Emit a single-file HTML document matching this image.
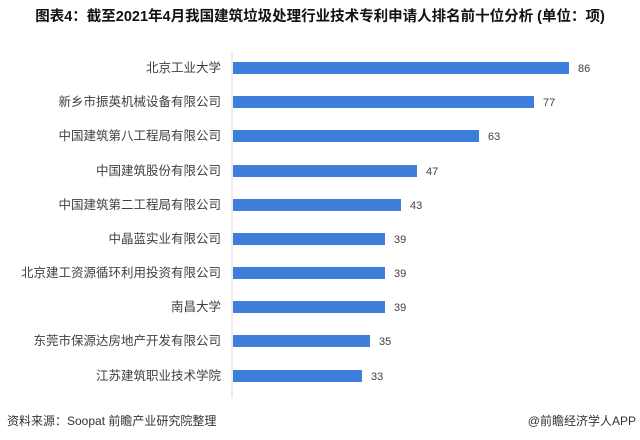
<!DOCTYPE html>
<html><head><meta charset="utf-8"><style>
body{margin:0;background:#fff;}
svg{display:block;font-family:"Liberation Sans","Noto Sans CJK SC",sans-serif;}
</style></head><body>
<svg width="640" height="440" xmlns="http://www.w3.org/2000/svg">
<text x="320" y="21" text-anchor="middle" font-size="14.5" font-weight="bold" fill="#111">图表4：截至2021年4月我国建筑垃圾处理行业技术专利申请人排名前十位分析 (单位：项)</text>
<line x1="232" y1="52" x2="232" y2="398" stroke="#d9d9d9" stroke-width="1"/>
<g font-size="12.5" fill="#404040" text-anchor="end">
<text x="221" y="72">北京工业大学</text>
<text x="221" y="106">新乡市振英机械设备有限公司</text>
<text x="221" y="140">中国建筑第八工程局有限公司</text>
<text x="221" y="175">中国建筑股份有限公司</text>
<text x="221" y="209">中国建筑第二工程局有限公司</text>
<text x="221" y="243">中晶蓝实业有限公司</text>
<text x="221" y="277">北京建工资源循环利用投资有限公司</text>
<text x="221" y="311">南昌大学</text>
<text x="221" y="345">东莞市保源达房地产开发有限公司</text>
<text x="221" y="380">江苏建筑职业技术学院</text>
</g>
<g fill="#3f7fdc">
<rect x="233" y="62" width="336" height="12"/>
<rect x="233" y="96" width="301" height="12"/>
<rect x="233" y="130" width="246" height="12"/>
<rect x="233" y="165" width="184" height="12"/>
<rect x="233" y="199" width="168" height="12"/>
<rect x="233" y="233" width="152" height="12"/>
<rect x="233" y="267" width="152" height="12"/>
<rect x="233" y="301" width="152" height="12"/>
<rect x="233" y="335" width="137" height="12"/>
<rect x="233" y="370" width="129" height="12"/>
</g>
<g font-size="11" fill="#404040">
<text x="578" y="72">86</text>
<text x="543" y="106">77</text>
<text x="488" y="140">63</text>
<text x="426" y="175">47</text>
<text x="410" y="209">43</text>
<text x="394" y="243">39</text>
<text x="394" y="277">39</text>
<text x="394" y="311">39</text>
<text x="379" y="345">35</text>
<text x="371" y="380">33</text>
</g>
<text x="7" y="425" font-size="12" fill="#333">资料来源：Soopat 前瞻产业研究院整理</text>
<text x="636" y="425" font-size="12" fill="#333" text-anchor="end">@前瞻经济学人APP</text>
</svg>
</body></html>
